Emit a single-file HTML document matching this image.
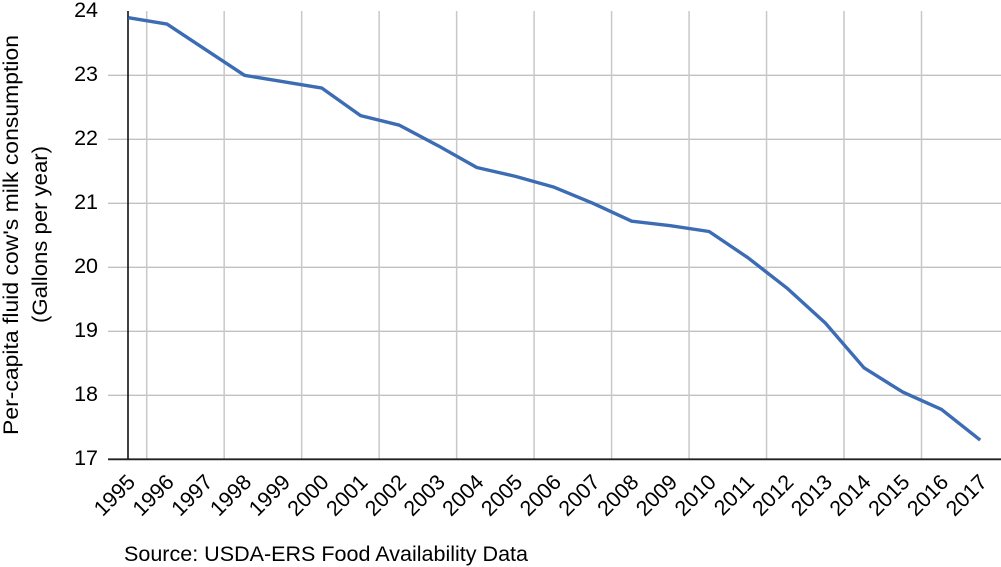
<!DOCTYPE html>
<html>
<head>
<meta charset="utf-8">
<title>Per-capita fluid cow's milk consumption</title>
<style>
html,body{margin:0;padding:0;background:#fff;width:1001px;height:567px;overflow:hidden}
svg{display:block}
text{font-family:"Liberation Sans",sans-serif;fill:#000}
</style>
</head>
<body>
<svg id="chart" width="1001" height="567" viewBox="0 0 1001 567" xmlns="http://www.w3.org/2000/svg">
  <g id="h-grid"></g>
  <g id="v-grid"></g>
  <line x1="128" y1="11" x2="128" y2="459.5" stroke="#111" stroke-width="1.6"/>
  <line x1="108" y1="459.3" x2="1001" y2="459.3" stroke="#222" stroke-width="1.8"/>
  <g id="y-ticks"></g>
  <g id="x-ticks"></g>
  <path id="series" fill="none" stroke="#3c6cb4" stroke-width="3.4" stroke-linejoin="round" stroke-linecap="butt"/>
  <g>
    <text transform="translate(18,235) rotate(-90)" text-anchor="middle" font-size="21.5" textLength="400" lengthAdjust="spacingAndGlyphs">Per-capita fluid cow's milk consumption</text>
    <text transform="translate(47,234.5) rotate(-90)" text-anchor="middle" font-size="21.5" textLength="177" lengthAdjust="spacingAndGlyphs">(Gallons per year)</text>
  </g>
  <text x="124" y="561" font-size="21.5" textLength="404" lengthAdjust="spacingAndGlyphs">Source: USDA-ERS Food Availability Data</text>
</svg>
<script>
var years = ['1995','1996','1997','1998','1999','2000','2001','2002','2003','2004','2005','2006','2007','2008','2009','2010','2011','2012','2013','2014','2015','2016','2017'];
var gallons = [23.9,23.8,23.4,23.0,22.9,22.8,22.37,22.22,21.9,21.56,21.42,21.25,21.0,20.72,20.65,20.56,20.15,19.68,19.13,18.43,18.05,17.78,17.3];
var yTicks = [17,18,19,20,21,22,23,24];
var NS = 'http://www.w3.org/2000/svg';
function xScale(i){ return 128.3 + i * (980.2 - 128.3) / (years.length - 1); }
function gridX(i){ return 146.7 + (i - 0.5) * 38.74; }
function yScale(v){ return 459.3 - (v - 17) * 64; }
function make(tag, attrs){
  var el = document.createElementNS(NS, tag);
  for (var k in attrs) el.setAttribute(k, attrs[k]);
  return el;
}
var hGrid = document.getElementById('h-grid');
var vGrid = document.getElementById('v-grid');
var yG = document.getElementById('y-ticks');
var xG = document.getElementById('x-ticks');
yTicks.forEach(function(t){
  var y = yScale(t);
  if (t > 17 && t < 24) {
    var g = make('line', {x1:108, y1:y, x2:1001, y2:y, stroke:'#c0c0c0', 'stroke-width':1.3});
    
    
    hGrid.appendChild(g);
  }
  var l = make('text', {x:98, y:y + 5.5, 'text-anchor':'end', 'font-size':21.5});
  
  
  l.textContent = t;
  yG.appendChild(l);
});
for (var i = 0.5; i < years.length - 1; i += 2) {
  var gx = gridX(i);
  var v = make('line', {x1:gx, y1:11, x2:gx, y2:459, stroke:'#c8c8c8', 'stroke-width':1.5});
  
  
  vGrid.appendChild(v);
}
years.forEach(function(yr, i){
  var cx = xScale(i) - 14;
  var cy = 495;
  var t = make('text', {x:cx, y:cy + 7.5, 'text-anchor':'middle', 'font-size':21.5, transform:'rotate(-45 ' + cx + ' ' + cy + ')'});
  
  
  t.textContent = yr;
  xG.appendChild(t);
});
document.getElementById('series').setAttribute('d', gallons.map(function(v, i){
  return (i ? 'L' : 'M') + xScale(i).toFixed(1) + ' ' + yScale(v).toFixed(1);
}).join(' '));
</script>
</body>
</html>
